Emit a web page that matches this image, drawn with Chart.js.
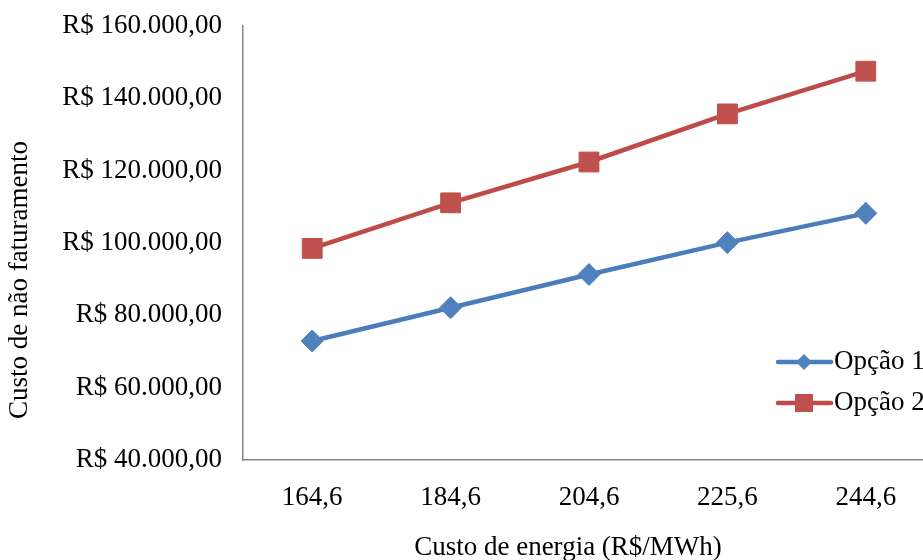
<!DOCTYPE html>
<html>
<head>
<meta charset="utf-8">
<script src="https://cdn.jsdelivr.net/npm/chart.js@4/dist/chart.umd.min.js"></script>
<style>
  html, body { margin: 0; padding: 0; background: #fff; overflow: hidden; }
  #chart { position: absolute; left: 0; top: 0; }
</style>
</head>
<body>
<canvas id="chart" width="935" height="560"></canvas>
<script>
const categories = ['164,6', '184,6', '204,6', '225,6', '244,6'];
const opcao1 = [72900, 82100, 91300, 100100, 108200];
const opcao2 = [98500, 111100, 122400, 135700, 147500];
const seriesNames = ['Opção 1', 'Opção 2'];
const yTitle = 'Custo de não faturamento';
const xTitle = 'Custo de energia (R$/MWh)';

const FONT = '"Liberation Serif", "Times New Roman", serif';
const BLUE = '#4A7EBB', BLUE_FILL = '#4F81BD';
const RED = '#BE4B48', RED_FILL = '#C0504D';

function brl(v) {
  const s = Math.round(v).toString().replace(/\B(?=(\d{3})+(?!\d))/g, '.');
  return 'R$ ' + s + ',00';
}

// axis titles and the legend sit at fixed spots, like the original sheet
const extras = {
  id: 'extras',
  afterDraw(chart) {
    const ctx = chart.ctx;
    ctx.save();
    ctx.fillStyle = '#000';
    ctx.font = '27px ' + FONT;
    ctx.textAlign = 'center';
    ctx.textBaseline = 'middle';
    ctx.fillText(xTitle, 568, 548);
    ctx.translate(20, 280);
    ctx.rotate(-Math.PI / 2);
    ctx.fillText(yTitle, 0, 0);
    ctx.restore();

    const rows = [
      { name: seriesNames[0], line: BLUE, fill: BLUE_FILL, shape: 'diamond', y: 362 },
      { name: seriesNames[1], line: RED, fill: RED_FILL, shape: 'square', y: 403 }
    ];
    ctx.save();
    rows.forEach(r => {
      ctx.strokeStyle = r.line;
      ctx.lineWidth = 4.5;
      ctx.lineCap = 'round';
      ctx.beginPath();
      ctx.moveTo(778, r.y);
      ctx.lineTo(831, r.y);
      ctx.stroke();
      ctx.fillStyle = r.fill;
      ctx.beginPath();
      if (r.shape === 'diamond') {
        ctx.moveTo(804, r.y - 8);
        ctx.lineTo(812, r.y);
        ctx.lineTo(804, r.y + 8);
        ctx.lineTo(796, r.y);
        ctx.closePath();
      } else {
        ctx.rect(795, r.y - 9, 18, 18);
      }
      ctx.fill();
      ctx.fillStyle = '#000';
      ctx.font = '27px ' + FONT;
      ctx.textAlign = 'left';
      ctx.textBaseline = 'middle';
      ctx.fillText(r.name, 834, r.y);
    });
    ctx.restore();
  }
};

new Chart(document.getElementById('chart').getContext('2d'), {
  type: 'line',
  data: {
    labels: categories,
    datasets: [{
      label: seriesNames[0],
      data: opcao1,
      borderColor: BLUE,
      borderWidth: 4.5,
      backgroundColor: BLUE_FILL,
      pointStyle: 'rectRot',
      pointRadius: 11,
      pointBorderWidth: 1,
      pointBorderColor: BLUE_FILL,
      pointBackgroundColor: BLUE_FILL,
      tension: 0
    }, {
      label: seriesNames[1],
      data: opcao2,
      borderColor: RED,
      borderWidth: 4.5,
      backgroundColor: RED_FILL,
      pointStyle: 'rect',
      pointRadius: 14,
      pointBorderWidth: 1,
      pointBorderColor: RED_FILL,
      pointBackgroundColor: RED_FILL,
      tension: 0
    }]
  },
  options: {
    responsive: false,
    animation: false,
    layout: { autoPadding: false, padding: { top: 26, right: 0, left: 0, bottom: 0 } },
    plugins: {
      legend: { display: false },
      tooltip: { enabled: false }
    },
    scales: {
      x: {
        offset: true,
        afterFit: (scale) => {
          scale.height = 100;
          scale.paddingLeft = 0;
          scale.paddingRight = 0;
        },
        grid: { color: 'transparent', drawTicks: false },
        border: { display: true, color: '#868686', width: 1.5 },
        ticks: {
          color: '#000',
          padding: 22,
          maxRotation: 0,
          font: { family: FONT, size: 27 }
        }
      },
      y: {
        min: 40000,
        max: 160000,
        afterFit: (scale) => {
          scale.width = 243;
          scale.paddingTop = 0;
          scale.paddingBottom = 0;
        },
        grid: { color: 'transparent', drawTicks: false },
        border: { display: true, color: '#868686', width: 1.5 },
        ticks: {
          stepSize: 20000,
          color: '#000',
          padding: 21,
          font: { family: FONT, size: 27 },
          callback: (value) => brl(value)
        }
      }
    }
  },
  plugins: [extras]
});
</script>
</body>
</html>
